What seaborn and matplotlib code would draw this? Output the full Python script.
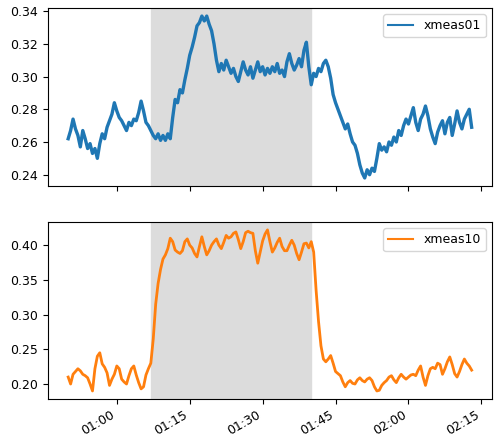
import pandas as pd
import matplotlib
matplotlib.use("Agg")
import matplotlib.pyplot as plt
import matplotlib.dates as mdates
import seaborn as sns

# ---- valores (amostras a cada 30 s, 00:50 -> 02:13) ----
inicio = "2000-01-01 00:50:00"
passo = "30s"

xmeas01 = [
    0.262, 0.267, 0.274, 0.268, 0.264, 0.257, 0.267, 0.262, 0.256, 0.259,
    0.253, 0.256, 0.250, 0.259, 0.265, 0.262, 0.269, 0.273, 0.277, 0.284,
    0.279, 0.275, 0.273, 0.270, 0.267, 0.272, 0.270, 0.274, 0.273, 0.278,
    0.285, 0.279, 0.272, 0.270, 0.267, 0.264, 0.262, 0.265, 0.261, 0.264,
    0.261, 0.265, 0.262, 0.275, 0.286, 0.284, 0.292, 0.290, 0.298, 0.305,
    0.313, 0.318, 0.324, 0.331, 0.333, 0.337, 0.334, 0.337, 0.332, 0.328,
    0.320, 0.310, 0.303, 0.308, 0.304, 0.310, 0.306, 0.302, 0.305, 0.300,
    0.297, 0.303, 0.309, 0.304, 0.301, 0.306, 0.299, 0.304, 0.309, 0.303,
    0.306, 0.301, 0.305, 0.302, 0.306, 0.303, 0.308, 0.302, 0.304, 0.300,
    0.309, 0.314, 0.308, 0.304, 0.307, 0.311, 0.306, 0.316, 0.321, 0.306,
    0.295, 0.302, 0.300, 0.305, 0.303, 0.308, 0.310, 0.306, 0.299, 0.289,
    0.284, 0.280, 0.276, 0.272, 0.268, 0.271, 0.265, 0.260, 0.258, 0.253,
    0.246, 0.241, 0.238, 0.243, 0.240, 0.244, 0.242, 0.250, 0.259, 0.255,
    0.257, 0.254, 0.260, 0.258, 0.263, 0.260, 0.267, 0.264, 0.270, 0.274,
    0.271, 0.276, 0.281, 0.272, 0.267, 0.274, 0.277, 0.282, 0.276, 0.268,
    0.263, 0.259, 0.266, 0.270, 0.273, 0.265, 0.272, 0.275, 0.264, 0.271,
    0.279, 0.272, 0.268, 0.274, 0.277, 0.280, 0.269,
]

xmeas10 = [
    0.210, 0.200, 0.214, 0.218, 0.222, 0.219, 0.214, 0.212, 0.209, 0.200,
    0.190, 0.222, 0.240, 0.245, 0.229, 0.224, 0.216, 0.198, 0.207, 0.214,
    0.226, 0.222, 0.207, 0.203, 0.200, 0.212, 0.222, 0.226, 0.213, 0.202,
    0.193, 0.196, 0.213, 0.222, 0.230, 0.265, 0.315, 0.345, 0.365, 0.380,
    0.386, 0.395, 0.410, 0.405, 0.393, 0.390, 0.388, 0.392, 0.405, 0.409,
    0.400, 0.396, 0.388, 0.383, 0.398, 0.412, 0.398, 0.386, 0.392, 0.400,
    0.405, 0.409, 0.400, 0.395, 0.404, 0.414, 0.410, 0.412, 0.417, 0.419,
    0.408, 0.395, 0.405, 0.418, 0.420, 0.418, 0.417, 0.392, 0.374, 0.390,
    0.406, 0.416, 0.422, 0.405, 0.390, 0.396, 0.404, 0.410, 0.398, 0.392,
    0.392, 0.400, 0.407, 0.400, 0.388, 0.379, 0.390, 0.402, 0.403, 0.396,
    0.405, 0.390, 0.335, 0.290, 0.255, 0.236, 0.232, 0.236, 0.241, 0.230,
    0.218, 0.215, 0.212, 0.203, 0.196, 0.202, 0.205, 0.201, 0.200, 0.206,
    0.209, 0.205, 0.203, 0.207, 0.209, 0.205, 0.196, 0.190, 0.191, 0.198,
    0.202, 0.205, 0.210, 0.212, 0.206, 0.202, 0.209, 0.214, 0.210, 0.207,
    0.210, 0.213, 0.214, 0.212, 0.220, 0.226, 0.210, 0.198, 0.212, 0.222,
    0.224, 0.222, 0.230, 0.228, 0.214, 0.222, 0.232, 0.239, 0.228, 0.215,
    0.210, 0.218, 0.228, 0.236, 0.230, 0.226, 0.220,
]

# janela destacada (periodo da falha)
falha_ini = "2000-01-01 01:07:00"
falha_fim = "2000-01-01 01:40:00"

tempo = pd.date_range(inicio, periods=len(xmeas01), freq=passo)
data = pd.DataFrame({"tempo": tempo, "xmeas01": xmeas01, "xmeas10": xmeas10})

plt.rcParams["font.size"] = 9

fig = plt.figure(figsize=(4.97, 4.43), dpi=100)
ax1 = fig.add_axes([0.0966, 0.580, 0.893, 0.402])
ax2 = fig.add_axes([0.0966, 0.0993, 0.893, 0.400], sharex=ax1)

cores = ["#1f77b4", "#ff7f0e"]
larguras = [2.4, 2.0]  # a serie de cima e mais ruidosa, parece uma faixa grossa
for ax, col, cor, lw in zip([ax1, ax2], ["xmeas01", "xmeas10"], cores, larguras):
    sns.lineplot(data=data, x="tempo", y=col, ax=ax, color=cor, linewidth=lw, label=col)
    ax.axvspan(pd.Timestamp(falha_ini), pd.Timestamp(falha_fim), color="#dcdcdc", zorder=0)
    ax.set_xlabel("")
    ax.set_ylabel("")
    leg = ax.legend(loc="upper right")
    for ln in leg.get_lines():
        ln.set_linewidth(1.5)

ax1.set_yticks([0.24, 0.26, 0.28, 0.30, 0.32, 0.34])
ax2.set_yticks([0.20, 0.25, 0.30, 0.35, 0.40])

ax2.xaxis.set_major_locator(mdates.MinuteLocator(byminute=[0, 15, 30, 45]))
ax2.xaxis.set_major_formatter(mdates.DateFormatter("%H:%M"))
plt.setp(ax1.get_xticklabels(), visible=False)
for lbl in ax2.get_xticklabels():
    lbl.set_rotation(30)
    lbl.set_ha("right")

fig.savefig("out.png", dpi=100)
